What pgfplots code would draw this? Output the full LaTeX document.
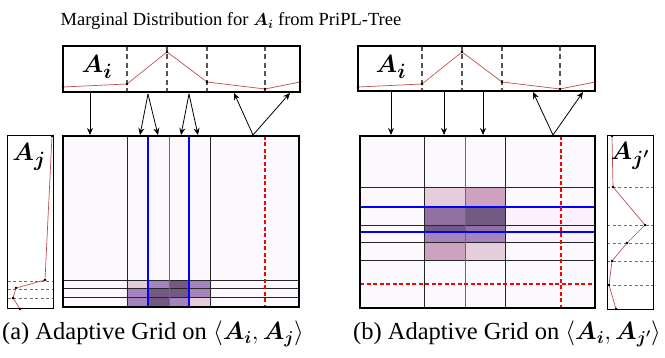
\documentclass[border=0pt]{standalone}
\usepackage{pgfplots}
\pgfplotsset{compat=1.18}
\usepackage{amsmath}
\usepackage{bm}
\usepackage{fontspec}
\setmainfont{Liberation Serif}
\usetikzlibrary{arrows.meta}
\definecolor{bgpale}{HTML}{FBF8FE}
\definecolor{lpink}{HTML}{E4CEDC}
\definecolor{pinkc}{HTML}{CCA2C0}
\definecolor{medp}{HTML}{A584BE}
\definecolor{purp}{HTML}{9270A2}
\definecolor{darkp}{HTML}{735A82}
\definecolor{lrose}{HTML}{FBF0FB}
\definecolor{curve}{HTML}{C0504D}
\definecolor{dgray}{HTML}{555555}
\definecolor{mgray}{HTML}{707070}
\definecolor{gline}{HTML}{262626}
\definecolor{gline2}{HTML}{6A6A6A}
\definecolor{bluel}{HTML}{0000FF}
\definecolor{redl}{HTML}{FF0000}
\newcommand{\cell}[5]{\addplot[fill=#5,draw=none] coordinates {(#1,#2)(#3,#2)(#3,#4)(#1,#4)} --cycle;}
\begin{document}
\begin{tikzpicture}
\begin{axis}[width=665pt,height=358pt,scale only axis,xmin=0,xmax=665,ymin=0,ymax=358,
  y dir=reverse,axis line style={draw=none},ticks=none,clip=false,unbounded coords=jump]
% ---------- titles ----------
\node[font=\fontsize{18.5}{20}\selectfont] at (axis cs:231,21) {Marginal Distribution for $\bm{A_i}$ from PriPL-Tree};
\node[font=\fontsize{24.5}{26}\selectfont] at (axis cs:153,334) {(a) Adaptive Grid on $\langle \bm{A_i}, \bm{A_j}\rangle$};
\node[font=\fontsize{24.5}{26}\selectfont] at (axis cs:507,334) {(b) Adaptive Grid on $\langle \bm{A_i}, \bm{A_{j'}}\rangle$};
% ================= (a) =================
\cell{63}{136}{299}{307}{bgpale}
\cell{128}{281}{148}{289}{lpink}
\cell{148}{281}{169}{289}{medp}
\cell{169}{281}{189}{289}{darkp}
\cell{189}{281}{210}{289}{medp}
\cell{128}{289}{148}{298}{medp}
\cell{148}{289}{169}{298}{darkp}
\cell{169}{289}{189}{298}{darkp}
\cell{189}{289}{210}{298}{medp}
\cell{128}{298}{148}{307}{medp}
\cell{148}{298}{169}{307}{darkp}
\cell{169}{298}{189}{307}{medp}
\cell{189}{298}{210}{307}{lpink}
\addplot[dgray,dash pattern=on 5pt off 3.5pt,line width=1.5pt] coordinates {(127,46)(127,92)(nan,nan)(167,46)(167,92)(nan,nan)(207,46)(207,92)(nan,nan)(265,46)(265,92)};
\addplot[mgray,dash pattern=on 3pt off 2.5pt,line width=0.8pt] coordinates {(8,281)(54,281)(nan,nan)(8,289)(54,289)(nan,nan)(8,298)(54,298)};
\addplot[gline,line width=1pt] coordinates {(128,136)(128,307)(nan,nan)(210,136)(210,307)(nan,nan)(63,281)(299,281)(nan,nan)(63,289)(299,289)(nan,nan)(63,298)(299,298)};
\addplot[gline2,line width=1pt] coordinates {(169,136)(169,307)};
\addplot[bluel,line width=1.3pt] coordinates {(148,136)(148,307)};
\addplot[bluel,line width=1.3pt] coordinates {(189,136)(189,307)};
\addplot[redl,dash pattern=on 4pt off 2.5pt,line width=1.4pt] coordinates {(265,136)(265,307)};
\addplot[curve,line width=0.7pt,mark=*,mark size=1pt,mark options={black,fill=black}] coordinates {(63,87)(127,84)(167,52)(207,82)(265,89)(300,82)};
\addplot[curve,line width=0.7pt,mark=*,mark size=1pt,mark options={black,fill=black}] coordinates {(52,136)(45,280)(16,288)(13,298)(20,309)};
\addplot[black,line width=1.8pt] coordinates {(63,46)(300,46)(300,92)(63,92)} --cycle;
\addplot[black,line width=1pt] coordinates {(8,136)(54,136)(54,309)(8,309)} --cycle;
\addplot[black,line width=1.8pt] coordinates {(63,136)(299,136)(299,307)(63,307)} --cycle;
\addplot[-{Stealth[length=7pt,width=6pt]},line width=0.8pt] coordinates {(90,93)(90,135)};
\addplot[-{Stealth[length=7pt,width=6pt]},line width=0.8pt] coordinates {(148,94)(140,135)};
\addplot[-{Stealth[length=7pt,width=6pt]},line width=0.8pt] coordinates {(148,94)(158,135)};
\addplot[-{Stealth[length=7pt,width=6pt]},line width=0.8pt] coordinates {(189,94)(181,135)};
\addplot[-{Stealth[length=7pt,width=6pt]},line width=0.8pt] coordinates {(189,94)(198,135)};
\addplot[-{Stealth[length=7pt,width=6pt]},line width=0.8pt] coordinates {(253,135)(234,93)};
\addplot[-{Stealth[length=7pt,width=6pt]},line width=0.8pt] coordinates {(253,135)(290,93)};
\node[font=\fontsize{29}{29}\selectfont] at (axis cs:97,67) {$\bm{A_i}$};
\node[font=\fontsize{29}{29}\selectfont] at (axis cs:29,157) {$\bm{A_j}$};
% ================= (b) =================
\cell{360}{136}{595}{308}{bgpale}
\cell{424}{188}{465}{207}{lpink}
\cell{465}{188}{505}{207}{pinkc}
\cell{424}{207}{465}{226}{purp}
\cell{465}{207}{505}{226}{darkp}
\cell{505}{207}{595}{226}{lrose}
\cell{424}{226}{465}{232}{darkp}
\cell{465}{226}{505}{232}{purp}
\cell{505}{226}{595}{232}{lrose}
\cell{424}{232}{465}{243}{medp}
\cell{465}{232}{505}{243}{medp}
\cell{505}{232}{595}{243}{lrose}
\cell{424}{243}{465}{261}{pinkc}
\cell{465}{243}{505}{261}{lpink}
\addplot[dgray,dash pattern=on 5pt off 3.5pt,line width=1.5pt] coordinates {(422,46)(422,91)(nan,nan)(462,46)(462,91)(nan,nan)(502,46)(502,91)(nan,nan)(560,46)(560,91)};
\addplot[mgray,dash pattern=on 3pt off 2.5pt,line width=0.8pt] coordinates {(607,187)(653,187)(nan,nan)(607,225)(653,225)(nan,nan)(607,243)(653,243)(nan,nan)(607,261)(653,261)(nan,nan)(607,285)(653,285)};
\addplot[gline,line width=1pt] coordinates {(424,136)(424,308)(nan,nan)(505,136)(505,308)(nan,nan)(360,188)(595,188)(nan,nan)(360,226)(595,226)(nan,nan)(360,243)(595,243)(nan,nan)(360,261)(595,261)};
\addplot[gline2,line width=1pt] coordinates {(465,136)(465,308)};
\addplot[bluel,line width=1.3pt] coordinates {(360,207)(595,207)};
\addplot[bluel,line width=1.3pt] coordinates {(360,232)(595,232)};
\addplot[redl,dash pattern=on 4pt off 2.5pt,line width=1.4pt] coordinates {(561,136)(561,308)};
\addplot[redl,dash pattern=on 4pt off 2.5pt,line width=1.4pt] coordinates {(360,284)(595,284)};
\addplot[curve,line width=0.7pt,mark=*,mark size=1pt,mark options={black,fill=black}] coordinates {(358,87)(422,84)(462,52)(502,82)(560,89)(595,82)};
\addplot[curve,line width=0.7pt,mark=*,mark size=1pt,mark options={black,fill=black}] coordinates {(612,136)(613,187)(645,225)(627,243)(612,261)(609,285)(616,309)};
\addplot[black,line width=1.8pt] coordinates {(358,46)(595,46)(595,91)(358,91)} --cycle;
\addplot[black,line width=1pt] coordinates {(607,136)(653,136)(653,310)(607,310)} --cycle;
\addplot[black,line width=1.8pt] coordinates {(360,136)(595,136)(595,308)(360,308)} --cycle;
\addplot[-{Stealth[length=7pt,width=6pt]},line width=0.8pt] coordinates {(391,92)(391,135)};
\addplot[-{Stealth[length=7pt,width=6pt]},line width=0.8pt] coordinates {(444,92)(444,135)};
\addplot[-{Stealth[length=7pt,width=6pt]},line width=0.8pt] coordinates {(483,92)(483,135)};
\addplot[-{Stealth[length=7pt,width=6pt]},line width=0.8pt] coordinates {(553,135)(533,92)};
\addplot[-{Stealth[length=7pt,width=6pt]},line width=0.8pt] coordinates {(553,135)(583,92)};
\node[font=\fontsize{29}{29}\selectfont] at (axis cs:391,67) {$\bm{A_i}$};
\node[font=\fontsize{29}{29}\selectfont] at (axis cs:630,156) {$\bm{A_{j'}}$};
\end{axis}
\pgfresetboundingbox
\path (0pt,0pt) rectangle (665pt,358pt);
\end{tikzpicture}
\end{document}
